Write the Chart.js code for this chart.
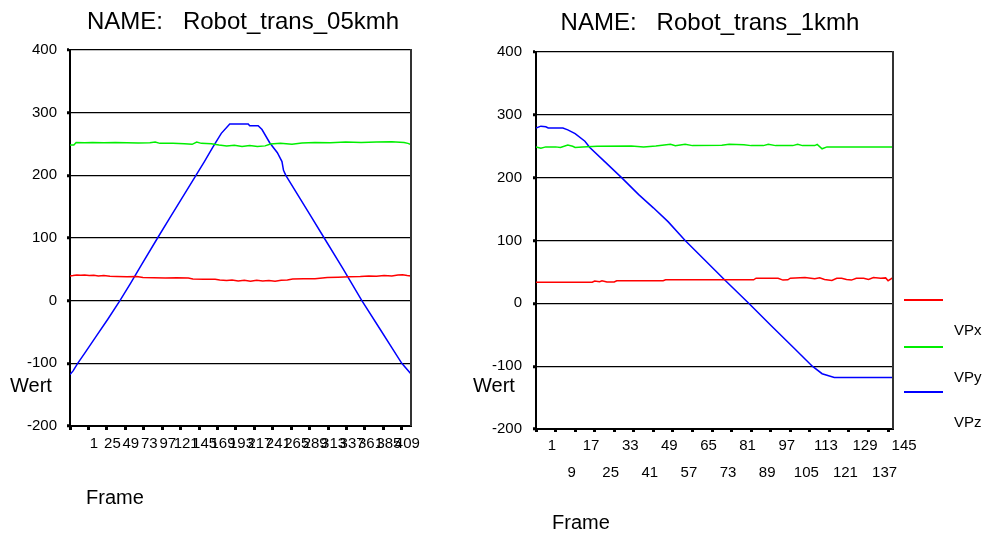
<!DOCTYPE html>
<html>
<head>
<meta charset="utf-8">
<script src="https://cdn.jsdelivr.net/npm/chart.js@4.4.0/dist/chart.umd.min.js"></script>
<style>
  body { margin: 0; background: #fff; font-family: Arial, "Liberation Sans", sans-serif; }
  #page { position: relative; width: 986px; height: 533px; overflow: hidden; }
  canvas { position: absolute; top: 0; }
  .txt { position: absolute; white-space: pre; color: #000; line-height: 1; }
  .title { font-size: 24px; text-align: center; width: 420px; }
  .axl { font-size: 20px; }
  .leg { font-size: 15px; }
  .legline { position: absolute; left: 904px; width: 39px; height: 2px; }
</style>
</head>
<body>
<div id="page">
  <canvas id="chart05" width="470" height="533" style="left:0px"></canvas>
  <canvas id="chart1" width="516" height="533" style="left:470px"></canvas>

  <div class="txt title" style="left:33px; top:9px">NAME:   Robot_trans_05kmh</div>
  <div class="txt title" style="left:500px; top:10px">NAME:   Robot_trans_1kmh</div>

  <div class="txt axl" style="left:10px; top:375px">Wert</div>
  <div class="txt axl" style="left:86px; top:487px">Frame</div>
  <div class="txt axl" style="left:473px; top:375px">Wert</div>
  <div class="txt axl" style="left:552px; top:512px">Frame</div>

  <div class="legline" style="top:299px; background:#ff0000"></div>
  <div class="txt leg" style="left:954px; top:322px">VPx</div>
  <div class="legline" style="top:346px; background:#00ee00"></div>
  <div class="txt leg" style="left:954px; top:369px">VPy</div>
  <div class="legline" style="top:391px; background:#0000ff"></div>
  <div class="txt leg" style="left:954px; top:414px">VPz</div>
</div>
<script>
const yTicks = [-200, -100, 0, 100, 200, 300, 400];

// Robot_trans_05kmh
const xTicks05 = [1, 25, 49, 73, 97, 121, 145, 169, 193, 217, 241, 265, 289, 313, 337, 361, 385, 409, 433];
const xLabels05 = ['1', '25', '49', '73', '97', '121', '145', '169', '193', '217', '241', '265', '289', '313', '337', '361', '385', '409', ''];

const vpxFrames05 = [1, 5, 10, 15, 20, 26, 32, 38, 45, 53, 62, 75, 88, 96, 110, 125, 140, 155, 161, 175, 190, 196, 205, 212, 220, 228, 236, 244, 252, 260, 268, 276, 284, 291, 305, 320, 336, 350, 365, 379, 390, 400, 410, 420, 428, 434, 440, 445];
const vpx05 = [39.5, 40, 41, 40.5, 41, 40, 40.5, 39.5, 40, 39, 38.5, 38, 38.5, 37, 36.5, 36, 36.5, 36, 34.5, 34, 34, 33, 32, 33, 31.5, 32.5, 31, 32.5, 31.5, 32, 31, 32.5, 33, 34.5, 35, 35, 37, 37.5, 38, 38.5, 39.5, 39, 40, 39.5, 41, 41.5, 40, 39.5];

const vpyFrames05 = [1, 6, 9, 20, 30, 45, 60, 75, 90, 105, 112, 118, 135, 150, 160, 166, 172, 185, 195, 205, 215, 225, 235, 245, 255, 262, 275, 290, 303, 320, 340, 360, 380, 400, 420, 436, 441, 445];
const vpy05 = [248.5, 248.5, 252.5, 252, 252.5, 252, 252.5, 252, 251.5, 252, 253, 251, 251, 250.5, 249.5, 253, 251, 250.5, 248.5, 247, 248, 246, 247.5, 246, 247, 250, 251, 249.5, 251.5, 252.5, 252, 253, 252.5, 253, 253.5, 252.5, 251, 249];

const vpzFrames05 = [1, 5, 11, 20, 35, 50, 66, 80, 95, 115, 130, 145, 165, 176, 187, 198, 209, 233, 235, 246, 251, 261, 271, 277, 279, 282, 301, 315, 332, 356, 381, 405, 420, 433, 440, 445];
const vpz05 = [-118, -112, -100, -84, -57, -30, 0, 28, 59, 100, 130, 160, 200, 222, 245, 267, 282, 282, 279, 279, 273, 252, 236, 222, 208, 200, 162, 134, 100, 52, 0, -46, -75, -100, -110, -117];

// Robot_trans_1kmh
const xTicks1 = [1, 9, 17, 25, 33, 41, 49, 57, 65, 73, 81, 89, 97, 105, 113, 121, 129, 137, 145];
const xLabels1 = ['1', '9', '17', '25', '33', '41', '49', '57', '65', '73', '81', '89', '97', '105', '113', '121', '129', '137', '145'];

const vpxFrames1 = [1, 24, 25, 27, 28, 30, 33, 34, 53, 54, 90, 91, 100, 102, 104, 105, 111, 115, 117, 119, 122, 124, 126, 128, 130, 132, 135, 137, 139, 142, 144, 145, 147];
const vpx1 = [33.5, 33.5, 35.5, 34.5, 36, 34, 34, 36, 36, 37.5, 37.5, 40, 40, 37, 37.5, 40, 41, 39, 40.5, 38, 36.5, 40, 40, 38, 37, 40, 40, 38, 41, 40, 40.5, 36, 41];

const vpyFrames1 = [1, 3, 5, 9, 11, 14, 16, 17, 20, 26, 40, 45, 50, 56, 58, 62, 65, 77, 80, 86, 89, 94, 96, 99, 106, 108, 110, 115, 116, 118, 120, 147];
const vpy1 = [249, 247, 249, 249, 248, 252, 250, 248, 249, 250, 250.5, 249, 250.5, 253, 251, 253, 251, 251.5, 253, 252.5, 251, 251, 253, 251, 251, 253, 251, 251, 253, 246, 249, 249];

const vpzFrames1 = [1, 3, 5, 6, 12, 14, 17, 21, 23, 29, 36, 43, 49, 55, 62, 70, 78, 88, 97, 107, 114, 118, 123, 147];
const vpz1 = [279, 282, 281, 279, 279, 276, 270, 258, 248, 226, 200, 173, 152, 130, 100, 69, 38, 0, -35, -73, -100, -112, -118, -118];

const seriesColors = { VPx: '#ff0000', VPy: '#00ee00', VPz: '#0000ff' };

Chart.defaults.font.family = 'Arial, "Liberation Sans", sans-serif';
Chart.defaults.color = '#000';

const rightEdge = {
    id: 'rightEdge',
    afterDraw(chart) {
        const { ctx, chartArea } = chart;
        ctx.save();
        ctx.strokeStyle = '#333';
        ctx.lineWidth = 2;
        ctx.beginPath();
        ctx.moveTo(chartArea.right, chartArea.top - 1);
        ctx.lineTo(chartArea.right, chartArea.bottom);
        ctx.stroke();
        ctx.restore();
    }
};

function toPoints(frames, values) {
    return frames.map((f, i) => ({ x: f, y: values[i] }));
}

function buildChart(id, series, frameMax, ticks, labelFn, box) {
    const ctx = document.getElementById(id).getContext('2d');
    return new Chart(ctx, {
        type: 'line',
        data: {
            datasets: series.map(s => ({
                label: s.label,
                data: toPoints(s.frames, s.values),
                borderColor: seriesColors[s.label],
                borderWidth: 1.5,
                pointRadius: 0,
                tension: 0,
                fill: false
            }))
        },
        options: {
            responsive: false,
            animation: false,
            layout: { padding: { top: box.top, right: box.right, left: 0, bottom: 0 } },
            plugins: {
                legend: { display: false },
                tooltip: { enabled: false },
                title: { display: false }
            },
            scales: {
                x: {
                    type: 'linear',
                    min: 1,
                    max: frameMax,
                    afterBuildTicks: scale => { scale.ticks = ticks.map(v => ({ value: v })); },
                    afterFit: scale => { scale.height = box.xHeight; },
                    grid: { drawOnChartArea: false, tickLength: box.tickLen, tickWidth: 3, tickColor: '#000' },
                    border: { color: '#000', width: 2 },
                    ticks: {
                        autoSkip: false,
                        maxRotation: 0,
                        minRotation: 0,
                        labelOffset: box.labelOffset,
                        padding: box.labelPad,
                        font: { size: 15, lineHeight: box.lineHeight },
                        callback: labelFn
                    }
                },
                y: {
                    min: -200,
                    max: 400,
                    afterBuildTicks: scale => { scale.ticks = yTicks.map(v => ({ value: v })); },
                    afterFit: scale => { scale.width = box.left; },
                    grid: { color: '#000', lineWidth: 1.3, tickLength: 3, tickWidth: 3, tickColor: '#000' },
                    border: { color: '#000', width: 2 },
                    ticks: { padding: box.yPad, font: { size: 15 } }
                }
            }
        },
        plugins: [rightEdge]
    });
}

buildChart('chart05', [
    { label: 'VPx', frames: vpxFrames05, values: vpx05 },
    { label: 'VPy', frames: vpyFrames05, values: vpy05 },
    { label: 'VPz', frames: vpzFrames05, values: vpz05 }
], 445, xTicks05, (v, i) => xLabels05[i],
{ top: 50, right: 59, left: 70, xHeight: 107, tickLen: 4, labelOffset: 24, labelPad: 5, lineHeight: 1.2, yPad: 10 });

buildChart('chart1', [
    { label: 'VPx', frames: vpxFrames1, values: vpx1 },
    { label: 'VPy', frames: vpyFrames1, values: vpy1 },
    { label: 'VPz', frames: vpzFrames1, values: vpz1 }
], 147, xTicks1, (v, i) => (i % 2 ? ['', xLabels1[i]] : [xLabels1[i], '']),
{ top: 52, right: 93, left: 66, xHeight: 104, tickLen: 3, labelOffset: 16, labelPad: 0, lineHeight: 1.8, yPad: 11 });
</script>
</body>
</html>
